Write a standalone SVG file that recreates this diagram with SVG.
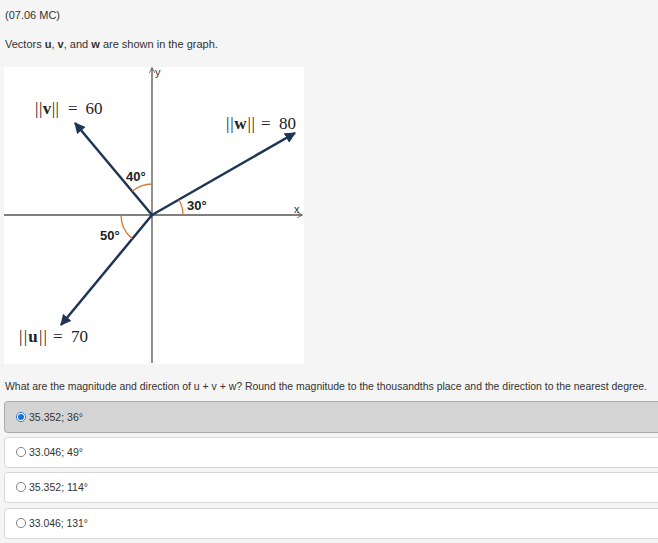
<svg xmlns="http://www.w3.org/2000/svg" width="658" height="543" viewBox="0 0 658 543">
<defs>
<style>
.t{font-family:"Liberation Sans",Arial,sans-serif;font-size:11px;fill:#333}
.ang{font-family:"Liberation Sans",Arial,sans-serif;font-size:13px;font-weight:bold;fill:#222}
.nrm{font-family:"Liberation Serif","Times New Roman",serif;font-size:17px;fill:#222}
.axis{stroke:#555;stroke-width:1.3;fill:none}
.vec{stroke:#1e3556;stroke-width:2.5;fill:none}
.arc{stroke:#d9782f;stroke-width:1.3;fill:none}
.opt{fill:#fff;stroke:#d8d8d8;stroke-width:1}
.rad{fill:#fff;stroke:#777;stroke-width:0.9}
</style>
<marker id="ah" viewBox="0 0 10 10" refX="9" refY="5" markerWidth="4.4" markerHeight="4.4" orient="auto" markerUnits="strokeWidth">
<path d="M0,0 L10,5 L0,10 Z" fill="#1e3556"/>
</marker>
<marker id="ax" viewBox="0 0 10 10" refX="9" refY="5" markerWidth="6" markerHeight="6" orient="auto" markerUnits="userSpaceOnUse">
<path d="M0,0 L10,5 L0,10" fill="none" stroke="#555" stroke-width="1.3"/>
</marker>
</defs>
<rect x="0" y="0" width="658" height="543" fill="#f5f5f5"/>
<text class="t" x="5" y="19" font-size="10.6">(07.06 MC)</text>
<text class="t" x="5" y="48" font-size="10.4">Vectors <tspan font-weight="bold">u</tspan>, <tspan font-weight="bold">v</tspan>, and <tspan font-weight="bold">w</tspan> are shown in the graph.</text>
<g id="graph">
<rect x="4" y="67" width="300" height="297" fill="#fff"/>
<line class="axis" x1="4" y1="215" x2="302" y2="215" marker-end="url(#ax)"/>
<line class="axis" x1="152" y1="363" x2="152" y2="68" marker-end="url(#ax)"/>
<text class="t" x="294" y="213" font-size="10">x</text>
<text class="t" x="155" y="76" font-size="10">y</text>
</g>
<g id="connectors">
<line id="v" class="vec" x1="152" y1="215" x2="75" y2="123" marker-end="url(#ah)"/>
<line id="w" class="vec" x1="152" y1="215" x2="295" y2="133" marker-end="url(#ah)"/>
<line id="u" class="vec" x1="152" y1="215" x2="61" y2="325" marker-end="url(#ah)"/>
</g>
<g id="angles">
<path class="arc" d="M152,184 A31,31 0 0 0 132.1,191.3"/>
<path class="arc" d="M183,215 A31,31 0 0 0 178.8,199.5"/>
<path class="arc" d="M121,215 A31,31 0 0 0 132.1,238.7"/>
<text class="ang" x="126" y="181">40°</text>
<text class="ang" x="187" y="210">30°</text>
<text class="ang" x="100" y="240">50°</text>
</g>
<g id="labels">
<text class="nrm" y="114"><tspan x="35" textLength="24" lengthAdjust="spacing">||<tspan font-weight="bold">v</tspan>||</tspan><tspan x="68">=</tspan><tspan x="85.5">60</tspan></text>
<text class="nrm" y="129"><tspan x="226" textLength="29" lengthAdjust="spacing">||<tspan font-weight="bold">w</tspan>||</tspan><tspan x="261">=</tspan><tspan x="279">80</tspan></text>
<text class="nrm" y="342"><tspan x="19" textLength="28" lengthAdjust="spacing">||<tspan font-weight="bold">u</tspan>||</tspan><tspan x="53">=</tspan><tspan x="71">70</tspan></text>
</g>
<text class="t" x="5" y="390" font-size="9.8" textLength="642" lengthAdjust="spacingAndGlyphs">What are the magnitude and direction of u + v + w? Round the magnitude to the thousandths place and the direction to the nearest degree.</text>
<g id="opt1">
<rect x="4.5" y="401.5" width="660" height="31" rx="3" fill="#d4d4d4" stroke="#aaa"/>
<circle cx="21" cy="417" r="4.6" fill="#fff" stroke="#3a7bd5" stroke-width="1"/>
<circle cx="21" cy="417" r="3" fill="#1a6fd8"/>
<text class="t" x="29" y="421" textLength="54" lengthAdjust="spacingAndGlyphs">35.352; 36°</text>
</g>
<g id="opt2">
<rect class="opt" x="4.5" y="437.5" width="660" height="30" rx="3"/>
<circle class="rad" cx="21" cy="452" r="4.6"/>
<text class="t" x="29" y="456" textLength="54" lengthAdjust="spacingAndGlyphs">33.046; 49°</text>
</g>
<g id="opt3">
<rect class="opt" x="4.5" y="472.5" width="660" height="30" rx="3"/>
<circle class="rad" cx="21" cy="487" r="4.6"/>
<text class="t" x="29" y="491" textLength="59" lengthAdjust="spacingAndGlyphs">35.352; 114°</text>
</g>
<g id="opt4">
<rect class="opt" x="4.5" y="508.5" width="660" height="30" rx="3"/>
<circle class="rad" cx="21" cy="523" r="4.6"/>
<text class="t" x="29" y="527" textLength="59" lengthAdjust="spacingAndGlyphs">33.046; 131°</text>
</g>
</svg>
